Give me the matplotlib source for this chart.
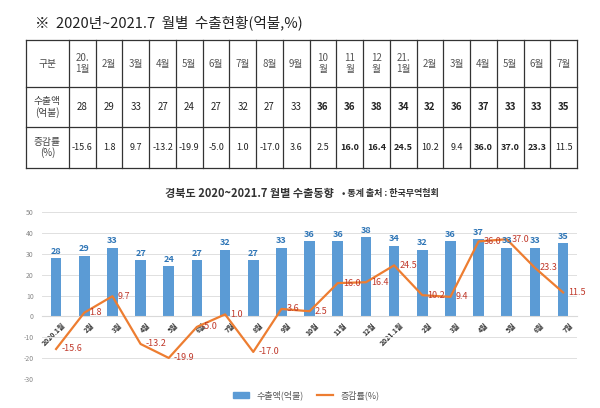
import matplotlib
matplotlib.use('Agg')
import matplotlib.pyplot as plt
from matplotlib.patches import Patch
from matplotlib.lines import Line2D
from matplotlib.transforms import ScaledTranslation

plt.rcParams['font.family'] = ['Noto Sans CJK KR', 'DejaVu Sans']
plt.rcParams['axes.unicode_minus'] = False

# data
months_tbl = ['20.\n1월', '2월', '3월', '4월', '5월', '6월', '7월', '8월', '9월', '10\n월', '11\n월',
              '12\n월', '21.\n1월', '2월', '3월', '4월', '5월', '6월', '7월']
months_axis = ['2020.1월', '2월', '3월', '4월', '5월', '6월', '7월', '8월', '9월', '10월', '11월',
               '12월', '2021.1월', '2월', '3월', '4월', '5월', '6월', '7월']
exports = [28, 29, 33, 27, 24, 27, 32, 27, 33, 36, 36, 38, 34, 32, 36, 37, 33, 33, 35]
rates = [-15.6, 1.8, 9.7, -13.2, -19.9, -5.0, 1.0, -17.0, 3.6, 2.5, 16.0, 16.4, 24.5, 10.2, 9.4,
         36.0, 37.0, 23.3, 11.5]
row_labels = ['구분', '수출액\n(억불)', '증감률\n(%)']

fig = plt.figure(figsize=(6, 4.08), dpi=100)

# ---- table (pixel coords overlay) ----
tb = fig.add_axes([0, 0, 1, 1])
tb.set_xlim(0, 600)
tb.set_ylim(408, 0)
tb.axis('off')

tb.text(35, 23, '※  2020년~2021.7  월별  수출현황(억불,%)', fontsize=10.5, va='center', ha='left', color='#222222')

x0, xfirst, x1 = 26, 69, 577
ys = [40, 87, 127, 168]
n = len(months_tbl)
cw = (x1 - xfirst) / n
xs = [x0] + [xfirst + i * cw for i in range(n + 1)]
for y in ys:
    tb.plot([x0, x1], [y, y], color='#333333', lw=0.9)
for x in xs:
    tb.plot([x, x], [ys[0], ys[-1]], color='#333333', lw=0.9)

for r in range(3):
    yc = (ys[r] + ys[r + 1]) / 2
    tb.text((x0 + xfirst) / 2, yc, row_labels[r], ha='center', va='center', fontsize=7,
            color='#444444', linespacing=1.05)
for i in range(n):
    xc = xfirst + (i + 0.5) * cw
    tb.text(xc, (ys[0] + ys[1]) / 2, months_tbl[i], ha='center', va='center', fontsize=7,
            color='#555555', linespacing=1.1)
    tb.text(xc, (ys[1] + ys[2]) / 2, str(exports[i]), ha='center', va='center', fontsize=7,
            color='#222222', fontweight='bold' if i >= 9 else 'normal')
    tb.text(xc, (ys[2] + ys[3]) / 2, f'{rates[i]:.1f}', ha='center', va='center', fontsize=6.5,
            color='#222222', fontweight='bold' if rates[i] >= 16 else 'normal')

# ---- chart ----
ax = fig.add_axes([0.07, 0.071, 0.892, 0.409])
x = list(range(n))
ax.bar(x, exports, width=0.38, color='#5B9BD5', zorder=2)
ax.plot(x, rates, color='#ED7D31', lw=1.6, zorder=3)

for i in x:
    ax.text(i, exports[i] + 1.2, str(exports[i]), ha='center', va='bottom', fontsize=6.5,
            fontweight='bold', color='#2E75B6')
    ax.text(i + 0.18, rates[i], f'{rates[i]:.1f}', ha='left', va='center', fontsize=6.5,
            color='#C0392B', zorder=4)

ax.set_xlim(-0.5, n - 0.5)
ax.set_ylim(-30, 50)
ax.set_yticks(range(-30, 51, 10))
ax.grid(axis='y', color='#e0e0e0', lw=0.7, zorder=0)
for s in ['top', 'right', 'left']:
    ax.spines[s].set_visible(False)
ax.spines['bottom'].set_position(('data', 0))
ax.spines['bottom'].set_color('#d9d9d9')
ax.tick_params(axis='both', length=0)
ax.tick_params(axis='y', labelsize=5, labelcolor='#888888', pad=6)
ax.set_xticks(x)
ax.set_xticklabels(months_axis, rotation=45, ha='right', rotation_mode='anchor',
                   fontsize=5, fontweight='bold', color='#333333')
shift = ScaledTranslation(4 / 72, 0, fig.dpi_scale_trans)
for lab in ax.get_xticklabels():
    lab.set_transform(lab.get_transform() + shift)

fig.text(0.415, 1 - 193 / 408, '경북도 2020~2021.7 월별 수출동향', ha='center', va='center',
         fontsize=8, fontweight='bold', color='#333333')
fig.text(0.57, 1 - 193 / 408, '• 통계 출처 : 한국무역협회', ha='left', va='center',
         fontsize=6.5, fontweight='bold', color='#333333')

handles = [Patch(color='#5B9BD5'), Line2D([0], [0], color='#ED7D31', lw=1.6)]
fig.legend(handles, ['수출액(억불)', '증감률(%)'], loc='center', bbox_to_anchor=(0.51, 1 - 395 / 408),
           ncol=2, frameon=False, fontsize=6.5, handlelength=1.8, columnspacing=1.5,
           labelcolor='#555555')

fig.savefig('out.png', dpi=100)
